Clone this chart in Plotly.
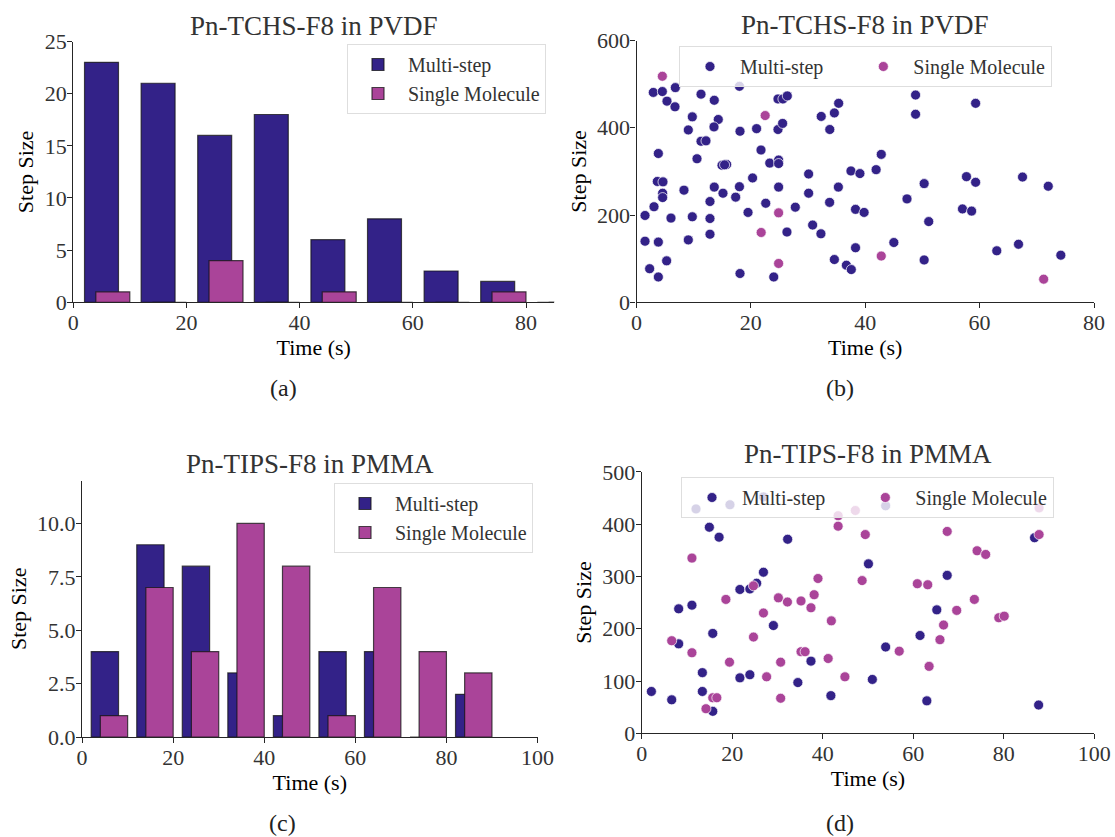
import plotly.graph_objects as go

# ---------------- data ----------------
# (a) counts per 10 s time bin, Pn-TCHS-F8 in PVDF
a_bin_left = [0, 10, 20, 30, 40, 50, 60, 70, 80]
a_multi = [23, 21, 16, 18, 6, 8, 3, 2, 0]
a_single = [1, 0, 4, 0, 1, 0, 0, 1, 0]

# (c) counts per 10 s time bin, Pn-TIPS-F8 in PMMA
c_bin_left = [0, 10, 20, 30, 40, 50, 60, 70, 80]
c_multi = [4, 9, 8, 3, 1, 4, 4, 0, 2]
c_single = [1, 7, 4, 10, 8, 1, 7, 4, 3]

# (b) step size vs time, Pn-TCHS-F8 in PVDF
b_multi_t = [2.94, 4.52, 5.33, 6.79, 6.73, 11.28, 13.6, 18.0, 9.76, 9.06, 14.3, 13.55, 11.28, 12.15,
             3.82, 10.58, 14.95, 15.76, 15.4, 3.64, 4.63, 4.57, 4.57, 3.06, 1.49, 6.03, 8.3, 9.76,
             12.85, 12.85, 13.6, 15.12, 17.34, 18.0, 20.3, 19.5, 22.6, 24.85, 23.3, 24.85, 24.85,
             21.77, 21.0, 24.74, 25.55, 24.74, 25.6, 26.37, 32.3, 34.6, 35.35, 33.8, 30.1, 30.1,
             27.77, 33.77, 30.8, 32.25, 26.31, 12.85, 9.06, 1.49, 3.82, 5.27, 2.3, 3.82, 18.1, 24.0,
             18.1, 34.6, 36.7, 37.56, 38.3, 37.5, 39.07, 38.3, 39.8, 35.3, 41.9, 42.8, 48.8, 48.8,
             59.3, 50.3, 47.3, 51.1, 45.0, 50.3, 57.7, 59.3, 57.0, 58.6, 67.5, 72.0, 63.0, 66.8, 74.2]
b_multi_s = [481, 483, 461, 492, 448, 477, 463, 495, 425, 395, 419, 402, 369, 370,
             341, 329, 314, 316, 315, 277, 276, 250, 240, 219, 199, 193, 257, 196,
             231, 192, 264, 250, 241, 265, 285, 206, 227, 264, 319, 326, 318,
             349, 398, 396, 410, 466, 466, 473, 426, 434, 456, 396, 294, 250,
             218, 229, 177, 157, 161, 156, 143, 140, 138, 95, 77, 58, 66, 58,
             392, 98, 85, 75, 125, 301, 295, 213, 206, 264, 304, 339, 475, 431,
             456, 272, 237, 185, 137, 97, 288, 275, 214, 209, 287, 266, 118, 133, 108]
b_single_t = [4.52, 22.5, 24.85, 21.8, 24.85, 42.8, 71.2]
b_single_s = [518, 428, 205, 160, 89, 106, 53]

# (d) step size vs time, Pn-TIPS-F8 in PMMA
d_multi_t = [2.14, 6.63, 8.17, 8.17, 11.1, 12.0, 14.95, 17.1, 13.4, 13.4, 15.7, 15.7, 19.5, 26.9,
             21.7, 23.9, 25.4, 26.9, 32.25, 29.1, 21.7, 23.9, 34.5, 37.4, 41.8, 50.1, 50.96, 53.9,
             53.9, 61.5, 65.2, 67.5, 63.0, 86.8, 87.7]
d_multi_s = [80, 64, 171, 238, 245, 429, 394, 375, 116, 80, 42, 191, 437, 452,
             275, 276, 287, 308, 371, 206, 106, 112, 97, 138, 72, 324, 103, 435,
             165, 187, 236, 302, 62, 374, 54]
d_single_t = [6.63, 11.1, 11.1, 14.2, 15.7, 16.6, 18.6, 19.4, 24.7, 24.7, 26.9, 27.6, 30.2, 30.7,
              30.7, 32.2, 35.2, 35.2, 36.1, 37.4, 38.1, 38.95, 41.9, 41.2, 44.9, 43.4, 43.4, 47.2,
              49.4, 48.7, 56.9, 60.9, 63.2, 67.5, 63.5, 65.9, 66.7, 69.6, 73.5, 74.1, 76.0, 78.9,
              80.1, 87.8, 87.8]
d_single_s = [177, 335, 154, 47, 68, 68, 256, 136, 282, 184, 230, 108, 259, 136,
              67, 251, 253, 156, 156, 240, 265, 296, 215, 143, 108, 416, 396, 426,
              380, 292, 157, 286, 284, 386, 128, 179, 207, 235, 256, 349, 342, 221,
              224, 380, 431]

titles = ["Pn-TCHS-F8 in PVDF", "Pn-TCHS-F8 in PVDF", "Pn-TIPS-F8 in PMMA", "Pn-TIPS-F8 in PMMA"]
captions = ["(a)", "(b)", "(c)", "(d)"]
series_names = ["Multi-step", "Single Molecule"]

# ---------------- style ----------------
W, H = 1115, 837
MULTI = "#332288"
SINGLE = "#AA4499"
FONT = "Liberation Serif, Times New Roman, serif"
EDGE = "rgba(20,20,20,0.75)"
PAD = "\u00a0" * 5   # widens the first horizontal legend entry (column spacing)


def px(x):
    return x / W


def py(y):
    return 1 - y / H


fig = go.Figure()
MSIZE = 10

# (a) bars
fig.add_trace(go.Bar(x=a_bin_left, y=a_multi, width=6, offset=2, name=series_names[0],
                     marker=dict(color=MULTI, line=dict(color=EDGE, width=1.2)),
                     xaxis="x", yaxis="y", legend="legend"))
fig.add_trace(go.Bar(x=a_bin_left, y=a_single, width=6, offset=4, name=series_names[1],
                     marker=dict(color=SINGLE, line=dict(color=EDGE, width=1.2)),
                     xaxis="x", yaxis="y", legend="legend"))
# (b) scatter
fig.add_trace(go.Scatter(x=b_multi_t, y=b_multi_s, mode="markers", name=series_names[0] + PAD,
                         marker=dict(color=MULTI, size=MSIZE, line=dict(color="white", width=0.7)),
                         xaxis="x2", yaxis="y2", legend="legend2"))
fig.add_trace(go.Scatter(x=b_single_t, y=b_single_s, mode="markers", name=series_names[1],
                         marker=dict(color=SINGLE, size=MSIZE, line=dict(color="white", width=0.7)),
                         xaxis="x2", yaxis="y2", legend="legend2"))
# (c) bars
fig.add_trace(go.Bar(x=c_bin_left, y=c_multi, width=6, offset=2, name=series_names[0],
                     marker=dict(color=MULTI, line=dict(color=EDGE, width=1.2)),
                     xaxis="x3", yaxis="y3", legend="legend3"))
fig.add_trace(go.Bar(x=c_bin_left, y=c_single, width=6, offset=4, name=series_names[1],
                     marker=dict(color=SINGLE, line=dict(color=EDGE, width=1.2)),
                     xaxis="x3", yaxis="y3", legend="legend3"))
# (d) scatter
fig.add_trace(go.Scatter(x=d_multi_t, y=d_multi_s, mode="markers", name=series_names[0] + PAD,
                         marker=dict(color=MULTI, size=MSIZE, line=dict(color="white", width=0.7)),
                         xaxis="x4", yaxis="y4", legend="legend4"))
fig.add_trace(go.Scatter(x=d_single_t, y=d_single_s, mode="markers", name=series_names[1],
                         marker=dict(color=SINGLE, size=MSIZE, line=dict(color="white", width=0.7)),
                         xaxis="x4", yaxis="y4", legend="legend4"))


def axis(domain, rng, tickvals, anchor, title, is_x, tickformat=None):
    d = dict(domain=domain, range=rng, tickvals=tickvals, anchor=anchor,
             showline=True, linecolor="#262626", linewidth=1.3,
             ticks="outside", ticklen=5, tickwidth=1.2, tickcolor="#262626",
             showgrid=False, zeroline=False, automargin=False,
             ticklabelstandoff=-5 if is_x else -4,
             tickfont=dict(family=FONT, size=22, color="#333333"),
             title=dict(text=title, font=dict(family=FONT, size=22, color="black"),
                        standoff=4 if is_x else 4))
    if tickformat:
        d["tickformat"] = tickformat
    return d


# pixel geometry of the four plot areas
geo = {
    "a": dict(x=(73.2, 554.3), y=(41.5, 302.3)),
    "b": dict(x=(636.5, 1094.0), y=(40.5, 302.3)),
    "c": dict(x=(82.1, 537.5), y=(480.7, 737.0)),
    "d": dict(x=(641.7, 1094.3), y=(471.8, 733.3)),
}


def dom_x(k):
    return [px(geo[k]["x"][0]), px(geo[k]["x"][1])]


def dom_y(k):
    return [py(geo[k]["y"][1]), py(geo[k]["y"][0])]


legend_common = dict(bgcolor="rgba(255,255,255,0.8)", bordercolor="#dedede", borderwidth=1,
                     font=dict(family=FONT, size=20, color="#333333"),
                     xanchor="left", yanchor="top", itemwidth=50)

layout = dict(
    width=W, height=H, margin=dict(l=0, r=0, t=0, b=0),
    font=dict(family=FONT, size=20, color="#333333"),
    paper_bgcolor="white", plot_bgcolor="white",
    barmode="overlay", showlegend=True,
    xaxis=axis(dom_x("a"), [0, 85], [0, 20, 40, 60, 80], "y", "Time (s)", True),
    yaxis=axis(dom_y("a"), [0, 25], [0, 5, 10, 15, 20, 25], "x", "Step Size", False),
    xaxis2=axis(dom_x("b"), [0, 80], [0, 20, 40, 60, 80], "y2", "Time (s)", True),
    yaxis2=axis(dom_y("b"), [0, 600], [0, 200, 400, 600], "x2", "Step Size", False),
    xaxis3=axis(dom_x("c"), [0, 100], [0, 20, 40, 60, 80, 100], "y3", "Time (s)", True),
    yaxis3=axis(dom_y("c"), [0, 12], [0, 2.5, 5, 7.5, 10], "x3", "Step Size", False, tickformat=".1f"),
    xaxis4=axis(dom_x("d"), [0, 100], [0, 20, 40, 60, 80, 100], "y4", "Time (s)", True),
    yaxis4=axis(dom_y("d"), [0, 500], [0, 100, 200, 300, 400, 500], "x4", "Step Size", False),
    legend=dict(legend_common, x=px(347), y=py(44)),
    legend2=dict(legend_common, x=px(679), y=py(46)),
    legend3=dict(legend_common, x=px(334), y=py(483)),
    legend4=dict(legend_common, x=px(681), y=py(477)),
)
layout["legend2"]["orientation"] = "h"
layout["legend4"]["orientation"] = "h"
fig.update_layout(**layout)

annotations = []
title_pos = [(313.7, 26), (865.3, 25), (309.8, 464), (868.0, 454)]
for (tx, ty), t in zip(title_pos, titles):
    annotations.append(dict(text=t, x=px(tx), y=py(ty), xref="paper", yref="paper",
                            xanchor="center", yanchor="middle", showarrow=False,
                            font=dict(family=FONT, size=27, color="#333333")))
cap_pos = [(283, 388), (839.6, 388), (282, 823), (839.6, 823)]
for (cx, cy), c in zip(cap_pos, captions):
    annotations.append(dict(text=c, x=px(cx), y=py(cy), xref="paper", yref="paper",
                            xanchor="center", yanchor="middle", showarrow=False,
                            font=dict(family=FONT, size=24, color="#222222")))
fig.update_layout(annotations=annotations)

fig.write_html("out.html")
